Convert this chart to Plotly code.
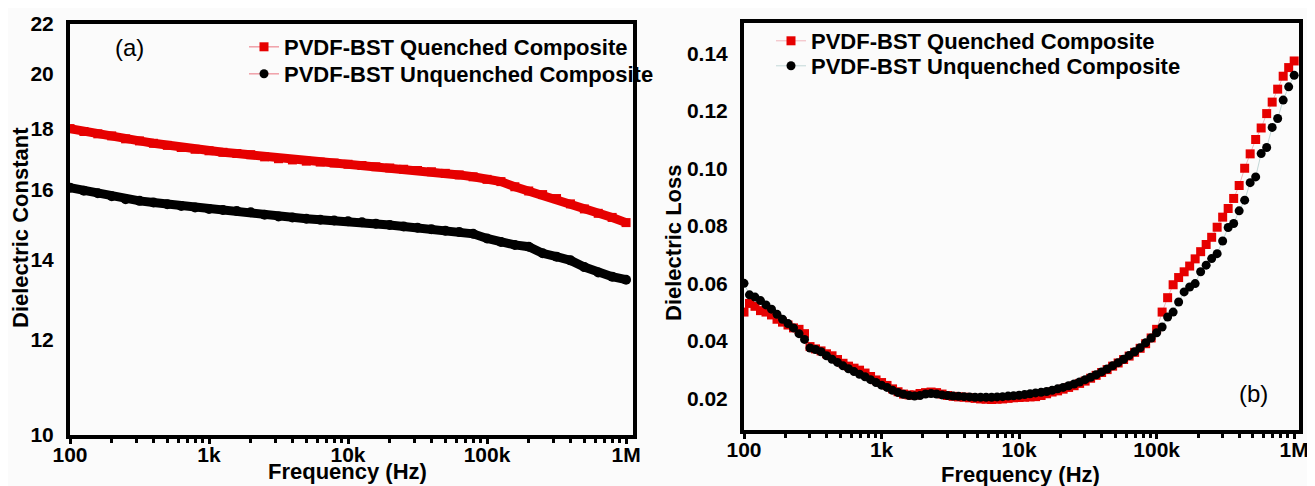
import plotly.graph_objects as go

# ---------------- data ----------------
# frequency sweep (Hz): mantissas per decade
mant_a = [1.0, 1.259, 1.585, 1.995, 2.512, 3.162, 3.981, 5.012, 6.310, 7.943]
mant_b = [1.000, 1.096, 1.202, 1.318, 1.445, 1.585, 1.738, 1.905, 2.089, 2.291,
          2.512, 2.754, 3.020, 3.311, 3.631, 3.981, 4.365, 4.786, 5.248, 5.754,
          6.310, 6.918, 7.586, 8.318, 9.120]
decades = [100, 1000, 10000, 100000]
freq_a = [m * d for d in decades for m in mant_a] + [1e6]
freq_b = [m * d for d in decades for m in mant_b] + [1e6]

# (a) dielectric constant
eps_quenched = [18.00, 17.90, 17.82, 17.75, 17.65, 17.58, 17.50, 17.43, 17.36, 17.30,
                17.25, 17.20, 17.16, 17.12, 17.05, 16.99, 16.95, 16.91, 16.88, 16.85,
                16.81, 16.77, 16.73, 16.69, 16.65, 16.61, 16.57, 16.52, 16.47, 16.41,
                16.33, 16.26, 16.10, 15.97, 15.86, 15.74, 15.58, 15.43, 15.30, 15.18,
                15.03]
eps_unquenched = [16.07, 15.98, 15.90, 15.81, 15.72, 15.67, 15.62, 15.57, 15.52, 15.47,
                  15.43, 15.40, 15.37, 15.33, 15.26, 15.21, 15.18, 15.14, 15.11, 15.09,
                  15.07, 15.04, 15.00, 14.96, 14.92, 14.88, 14.84, 14.80, 14.76, 14.71,
                  14.58, 14.48, 14.40, 14.35, 14.17, 14.08, 13.98, 13.80, 13.66, 13.55,
                  13.47]

# (b) dielectric loss
loss_quenched = [0.0500, 0.0530, 0.0520, 0.0505, 0.0500, 0.0490, 0.0475, 0.0465, 0.0455, 0.0445,
                 0.0440, 0.0425, 0.0380, 0.0372, 0.0365, 0.0355, 0.0348, 0.0335, 0.0322, 0.0312,
                 0.0305, 0.0298, 0.0288, 0.0276, 0.0264, 0.0255, 0.0245, 0.0233, 0.0223, 0.0215,
                 0.0212, 0.0212, 0.0217, 0.0220, 0.0222, 0.0220, 0.0215, 0.0210, 0.0207, 0.0205,
                 0.0204, 0.0202, 0.0200, 0.0198, 0.0197, 0.0196, 0.0197, 0.0198, 0.0200, 0.0202,
                 0.0203, 0.0204, 0.0205, 0.0206, 0.0210, 0.0216, 0.0222, 0.0226, 0.0232, 0.0238,
                 0.0244, 0.0252, 0.0260, 0.0270, 0.0280, 0.0290, 0.0300, 0.0312, 0.0323, 0.0335,
                 0.0347, 0.0360, 0.0374, 0.0390, 0.0410, 0.0440, 0.0500, 0.0550, 0.0595, 0.0620,
                 0.0640, 0.0660, 0.0685, 0.0710, 0.0735, 0.0760, 0.0795, 0.0830, 0.0860, 0.0895,
                 0.0940, 0.1000, 0.1050, 0.1100, 0.1140, 0.1190, 0.1230, 0.1275, 0.1320, 0.1350,
                 0.1373]
loss_unquenched = [0.0600, 0.0560, 0.0552, 0.0540, 0.0525, 0.0510, 0.0492, 0.0475, 0.0460, 0.0445,
                   0.0425, 0.0405, 0.0375, 0.0370, 0.0362, 0.0348, 0.0336, 0.0325, 0.0313, 0.0303,
                   0.0293, 0.0284, 0.0275, 0.0265, 0.0255, 0.0246, 0.0238, 0.0228, 0.0220, 0.0214,
                   0.0210, 0.0208, 0.0210, 0.0215, 0.0217, 0.0215, 0.0212, 0.0210, 0.0208, 0.0207,
                   0.0206, 0.0205, 0.0204, 0.0204, 0.0204, 0.0204, 0.0205, 0.0206, 0.0208, 0.0209,
                   0.0211, 0.0213, 0.0216, 0.0219, 0.0221, 0.0224, 0.0228, 0.0233, 0.0238, 0.0244,
                   0.0250, 0.0257, 0.0265, 0.0273, 0.0282, 0.0292, 0.0302, 0.0313, 0.0324, 0.0336,
                   0.0349, 0.0362, 0.0376, 0.0393, 0.0410, 0.0428, 0.0448, 0.0483, 0.0500, 0.0535,
                   0.0570, 0.0587, 0.0599, 0.0640, 0.0663, 0.0686, 0.0703, 0.0747, 0.0794, 0.0808,
                   0.0852, 0.0889, 0.0950, 0.0970, 0.1051, 0.1072, 0.1142, 0.1173, 0.1237, 0.1283,
                   0.1323]

x_tickvals = [100, 1000, 10000, 100000, 1000000]
x_ticktext = ["100", "1k", "10k", "100k", "1M"]
eps_ticks = [10, 12, 14, 16, 18, 20, 22]
loss_ticks = [0.02, 0.04, 0.06, 0.08, 0.10, 0.12, 0.14]

names = ["PVDF-BST Quenched Composite", "PVDF-BST Unquenched Composite"]

# ---------------- style ----------------
RED = "#e60000"
BLACK = "#000000"
FONT = "Liberation Sans"
OFF = 8                      # page body margin of the browser
W, H = 1315 - OFF, 486 - OFF
BG = "#fbfbfb"


def px(x):
    return (x - OFF) / W


def py(y):
    return 1 - (y - OFF) / H


fig = go.Figure()

# (a) bands
fig.add_trace(go.Scatter(x=freq_a, y=eps_quenched, mode="lines+markers",
                         line=dict(color=RED, width=9),
                         marker=dict(symbol="square", size=9, color=RED),
                         showlegend=False, xaxis="x", yaxis="y"))
fig.add_trace(go.Scatter(x=freq_a, y=eps_unquenched, mode="lines+markers",
                         line=dict(color=BLACK, width=9),
                         marker=dict(symbol="circle", size=10, color=BLACK),
                         showlegend=False, xaxis="x", yaxis="y"))
# (a) legend entries
fig.add_trace(go.Scatter(x=[None], y=[None], mode="lines+markers", name=names[0],
                         line=dict(color="#f0a0a8", width=1.5),
                         marker=dict(symbol="square", size=9, color=RED),
                         legend="legend", xaxis="x", yaxis="y"))
fig.add_trace(go.Scatter(x=[None], y=[None], mode="lines+markers", name=names[1],
                         line=dict(color="#f0a0a8", width=1.5),
                         marker=dict(symbol="circle", size=9, color=BLACK),
                         legend="legend2", xaxis="x", yaxis="y"))

# (b)
fig.add_trace(go.Scatter(x=freq_b, y=loss_quenched, mode="lines+markers", name=names[0],
                         line=dict(color="rgba(235,150,160,0.7)", width=1),
                         marker=dict(symbol="square", size=9, color=RED),
                         legend="legend3", xaxis="x2", yaxis="y2"))
fig.add_trace(go.Scatter(x=freq_b, y=loss_unquenched, mode="lines+markers", name=names[1],
                         line=dict(color="rgba(170,200,200,0.7)", width=1),
                         marker=dict(symbol="circle", size=9, color=BLACK),
                         legend="legend4", xaxis="x2", yaxis="y2"))

tickfont = dict(family=FONT, size=21, color="black", weight="bold")
xcommon = dict(type="log", tickvals=x_tickvals, ticktext=x_ticktext,
               showline=True, linewidth=4, linecolor="black", mirror=True,
               ticks="outside", ticklen=5, tickwidth=3, tickcolor="black",
               minor=dict(ticks="outside", ticklen=4, tickwidth=3, tickcolor="black", dtick="D1"),
               showgrid=False, zeroline=False, tickfont=tickfont, ticklabelstandoff=-7,
               automargin=False)
ycommon = dict(showline=True, linewidth=4, linecolor="black", mirror=True,
               ticks="", showgrid=False, zeroline=False, tickfont=tickfont,
               ticklabelstandoff=8, automargin=False)


def leg(x, y):
    return dict(x=px(x), y=py(y), xanchor="left", yanchor="top",
                bgcolor="rgba(0,0,0,0)", borderwidth=0,
                font=dict(family=FONT, size=22, color="black", weight="bold"),
                itemsizing="trace")


fig.update_layout(
    width=W, height=H,
    margin=dict(l=0, r=0, t=0, b=0, autoexpand=False),
    paper_bgcolor=BG, plot_bgcolor=BG,
    xaxis=dict(domain=[px(70), px(633)], range=[2.0, 6.05], anchor="y", **xcommon),
    yaxis=dict(domain=[py(435), py(24)], type="log",
               range=[1.0, 1.342423], tickvals=eps_ticks,
               ticktext=[str(v) for v in eps_ticks], anchor="x", **ycommon),
    xaxis2=dict(domain=[px(744), px(1299)], range=[2.0, 6.035], anchor="y2", **xcommon),
    yaxis2=dict(domain=[py(430), py(23)], range=[0.009, 0.1505],
                tickvals=loss_ticks, ticktext=["%.2f" % v for v in loss_ticks],
                anchor="x2", **ycommon),
    legend=leg(244, 26),
    legend2=leg(244, 53),
    legend3=leg(771, 20),
    legend4=leg(771, 45),
)

ann_font = dict(family=FONT, size=22, color="black", weight="bold")


def ann(text, x, y, font, angle=0):
    fig.add_annotation(text=text, x=px(x), y=py(y), xref="paper", yref="paper",
                       xanchor="center", yanchor="middle", textangle=angle,
                       showarrow=False, font=font)


ann("Dielectric Constant", 20, 228, ann_font, -90)
ann("Frequency (Hz)", 347, 471, ann_font)
ann("Dielectric Loss", 673, 243, ann_font, -90)
ann("Frequency (Hz)", 1020, 474, ann_font)
ann("(a)", 130, 47, dict(family=FONT, size=24, color="black"))
ann("(b)", 1253, 393, dict(family=FONT, size=24, color="black"))

fig.write_html("out.html")
